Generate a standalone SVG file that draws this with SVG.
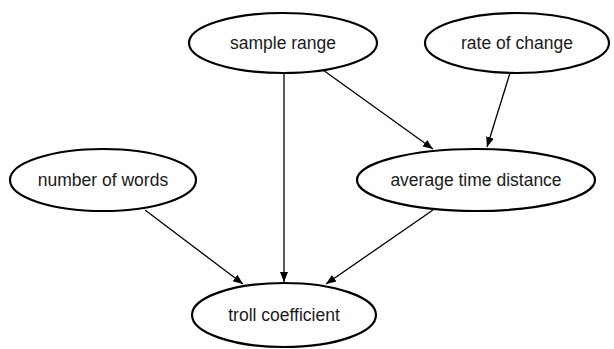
<svg xmlns="http://www.w3.org/2000/svg" width="614" height="349" viewBox="0 0 614 349">
<style>
.n ellipse{fill:#fff;stroke:#000;stroke-width:2.2}
.n text{font-family:"Liberation Sans",Arial,sans-serif;font-size:17.5px;fill:#1a1a1a;text-anchor:middle}
.e line{stroke:#000;stroke-width:1.3;marker-end:url(#ah)}
</style>
<defs>
<marker id="ah" viewBox="0 0 10 10" refX="10" refY="5" markerWidth="10" markerHeight="10" markerUnits="userSpaceOnUse" orient="auto">
<path d="M0,1 L10,5 L0,9 Z" fill="#000"/>
</marker>
</defs>
<rect width="614" height="349" fill="#fff"/>
<g id="edges" class="e">
<line x1="284" y1="74" x2="284" y2="282"/>
<line x1="323" y1="70" x2="433" y2="149"/>
<line x1="510" y1="73" x2="487" y2="147"/>
<line x1="145" y1="210" x2="243" y2="284"/>
<line x1="433" y1="210" x2="326" y2="284"/>
</g>
<g id="sample_range" class="n"><ellipse cx="283" cy="43" rx="94" ry="30"/><text x="283" y="49">sample range</text></g>
<g id="rate_of_change" class="n"><ellipse cx="517" cy="43" rx="92" ry="30"/><text x="517" y="49">rate of change</text></g>
<g id="number_of_words" class="n"><ellipse cx="103" cy="180" rx="93" ry="31"/><text x="103" y="186">number of words</text></g>
<g id="average_time_distance" class="n"><ellipse cx="476" cy="180" rx="119" ry="31"/><text x="476" y="186">average time distance</text></g>
<g id="troll_coefficient" class="n"><ellipse cx="284" cy="315" rx="92" ry="32"/><text x="284" y="321">troll coefficient</text></g>
</svg>
